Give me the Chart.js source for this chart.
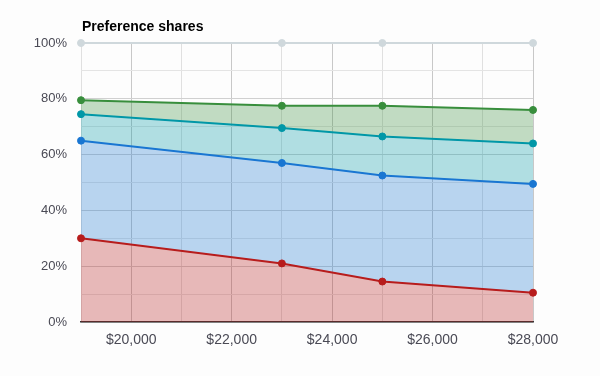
<!DOCTYPE html>
<html><head><meta charset="utf-8">
<script src="https://cdn.jsdelivr.net/npm/chart.js@4"></script>
<style>html,body{margin:0;padding:0;background:#fdfdfd}#wrap{width:600px;height:376px}</style>
</head><body><div id="wrap"><canvas id="c" width="600" height="376"></canvas></div>
<script>
const prices = [19000, 23000, 25000, 28000];
const seriesNames = ['A', 'B', 'C', 'D', 'None'];
const shareA = [30, 21, 14.5, 10.5];
const shareB = [35, 36, 38, 39];
const shareC = [9.5, 12.5, 14, 14.5];
const shareD = [5, 8, 11, 12];
const shareNone = [20.5, 22.5, 22.5, 24];
const xTickLabels = ['$20,000', '$22,000', '$24,000', '$26,000', '$28,000'];
const yTickLabels = ['0%', '20%', '40%', '60%', '80%', '100%'];

const lineColors = ['#b71c1c', '#1976d2', '#0097a7', '#388e3c', '#cfd8dc'];
const fillColors = ['rgba(183,28,28,0.3)', 'rgba(25,118,210,0.3)', 'rgba(0,151,167,0.3)', 'rgba(56,142,60,0.3)', 'rgba(0,0,0,0)'];
const shares = [shareA, shareB, shareC, shareD, shareNone];

const datasets = shares.map((s, i) => ({
  label: seriesNames[i],
  data: prices.map((p, j) => ({x: p, y: s[j]})),
  borderColor: lineColors[i],
  backgroundColor: fillColors[i],
  pointBackgroundColor: lineColors[i],
  pointBorderColor: lineColors[i],
  pointRadius: 3.5,
  pointBorderWidth: 1,
  borderWidth: 2,
  fill: i === 0 ? 'origin' : '-1',
  tension: 0,
  clip: false
}));

const titlePlugin = {
  id: 'titleText',
  afterDraw(chart) {
    const ctx = chart.ctx;
    ctx.save();
    ctx.font = 'bold 14px "Liberation Sans", Arial, sans-serif';
    ctx.fillStyle = '#000';
    ctx.textBaseline = 'alphabetic';
    ctx.fillText('Preference shares', chart.chartArea.left + 1, 31);
    ctx.restore();
  }
};

new Chart(document.getElementById('c'), {
  type: 'line',
  data: {datasets},
  plugins: [titlePlugin],
  options: {
    responsive: false,
    animation: false,
    layout: {padding: {left: 0, right: 67, top: 43, bottom: 0}},
    plugins: {legend: {display: false}, tooltip: {enabled: false}, filler: {propagate: false}},
    scales: {
      x: {
        type: 'linear', min: 19000, max: 28000,
        afterFit: s => { s.height = 54; },
        border: {color: '#333', width: 1.5},
        grid: {
          color: c => (c.tick && c.tick.value % 2000 === 0) ? '#c8c8c8' : '#e0e0e0',
          drawTicks: false
        },
        ticks: {
          stepSize: 1000, autoSkip: false, maxRotation: 0, padding: 10,
          color: '#4a4a55', font: {family: '"Liberation Sans", Arial, sans-serif', size: 14},
          callback: v => (v % 2000 === 0 && v >= 20000) ? xTickLabels[(v - 20000) / 2000] : ''
        }
      },
      y: {
        stacked: true, min: 0, max: 100,
        afterFit: s => { s.width = 81; },
        border: {display: false},
        grid: {
          color: c => (c.tick && c.tick.value % 20 === 0) ? '#d0d0d0' : '#e4e4e4',
          drawTicks: false
        },
        ticks: {
          stepSize: 10, autoSkip: false, padding: 14,
          color: '#4a4a55', font: {family: '"Liberation Sans", Arial, sans-serif', size: 13},
          callback: v => (v % 20 === 0) ? yTickLabels[v / 20] : ''
        }
      }
    }
  }
});
</script></body></html>
